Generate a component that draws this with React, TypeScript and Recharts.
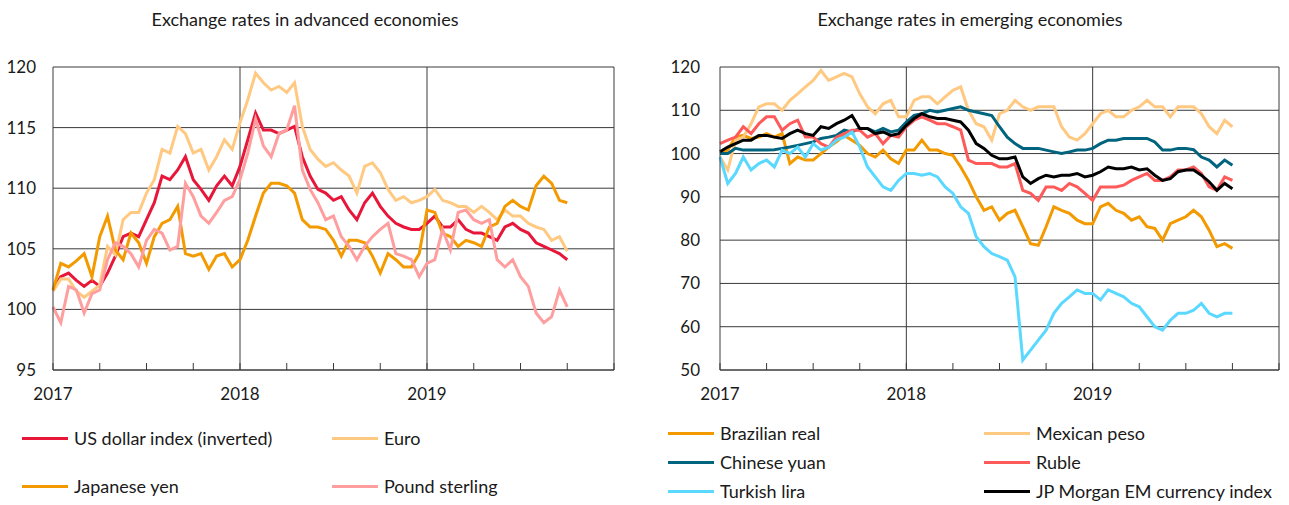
import { CartesianGrid, Line, LineChart, ReferenceLine, XAxis, YAxis } from "recharts";

const months = [
  0, 0.5, 1, 1.5, 2, 2.5, 3, 3.5, 4, 4.5, 5, 5.5, 6, 6.5, 7, 7.5, 8, 8.5, 9, 9.5, 10, 10.5, 11, 11.5, 12,
  12.5, 13, 13.5, 14, 14.5, 15, 15.5, 16, 16.5, 17, 17.5, 18, 18.5, 19, 19.5, 20, 20.5, 21, 21.5, 22, 22.5, 23, 23.5, 24,
  24.5, 25, 25.5, 26, 26.5, 27, 27.5, 28, 28.5, 29, 29.5, 30, 30.5, 31, 31.5, 32, 32.5, 33,
];

// advanced economies
const usd = [
  101.6, 102.7, 103, 102.4, 101.9, 102.4, 101.9, 103, 104.4, 106, 106.3, 106, 107.4, 108.8, 111, 110.7, 111.5, 112.6, 110.7, 109.9, 109, 110.2, 111, 110.2, 111.8,
  114, 116.2, 114.8, 114.8, 114.5, 114.8, 115.1, 112.6, 111, 109.9, 109.6, 109, 109.3, 108.2, 107.4, 108.8, 109.6, 108.5, 107.7, 107.1, 106.8, 106.6, 106.6, 107.1,
  107.7, 106.8, 106.8, 107.4, 106.6, 106.3, 106.3, 106, 105.7, 106.8, 107.1, 106.6, 106.3, 105.5, 105.2, 104.9, 104.6, 104.1,
];
const euro = [
  101.5, 102.5, 102.5, 101.5, 101, 101.5, 102, 105.2, 104.5, 107.4, 108, 108, 109.6, 110.7, 113.2, 112.9, 115.1, 114.5, 112.9, 113.2, 111.5, 112.6, 114, 113.2, 115.4,
  117.3, 119.5, 118.7, 118.1, 118.4, 117.9, 118.7, 115.1, 113.2, 112.4, 111.8, 112.1, 111.5, 111, 109.6, 111.8, 112.1, 111.3, 109.9, 109, 109.3, 108.8, 109, 109.3,
  109.9, 109, 108.8, 108.5, 108.5, 108, 108.5, 108, 107.4, 108.2, 107.7, 107.7, 107.1, 106.8, 106.6, 105.7, 106, 104.8,
];
const yen = [
  101.6, 103.8, 103.5, 104, 104.6, 102.7, 106, 107.7, 104.9, 104.1, 106.3, 105.5, 103.8, 106, 107.1, 107.4, 108.5, 104.6, 104.4, 104.6, 103.3, 104.4, 104.6, 103.5, 104.1,
  105.7, 107.7, 109.6, 110.4, 110.4, 110.2, 109.6, 107.4, 106.8, 106.8, 106.6, 105.7, 104.4, 105.7, 105.7, 105.5, 104.4, 103, 104.6, 104.1, 103.5, 103.5, 104.6, 108.2,
  108, 106.3, 106, 105.2, 105.7, 105.5, 105.2, 106.8, 107.1, 108.5, 109, 108.5, 108.2, 110.2, 111, 110.4, 109, 108.8,
];
const pound = [
  100.2, 98.9, 101.9, 101.6, 99.7, 101.3, 101.6, 104.1, 105.5, 105.2, 104.6, 103.5, 105.7, 106.6, 106.3, 104.9, 105.2, 110.4, 109.3, 107.7, 107.1, 108, 109, 109.3, 110.7,
  112.9, 115.7, 113.5, 112.6, 114.5, 114.8, 116.8, 111.5, 109.9, 108.8, 107.4, 107.7, 106, 105.2, 104.1, 105.2, 106, 106.6, 107.1, 104.6, 104.4, 104.1, 102.7, 103.8,
  104.1, 106.6, 104.9, 108, 108.2, 107.4, 107.1, 107.4, 104.1, 103.5, 104.1, 102.7, 101.9, 99.7, 98.9, 99.4, 101.6, 100.2,
];

// emerging economies
const real = [
  100, 100.8, 103.8, 104.2, 103.5, 103.8, 104.6, 103.8, 104.6, 97.7, 99.2, 98.5, 98.5, 100, 101.5, 102.7, 104.2, 103.1, 101.9, 100, 99.2, 100.8, 98.8, 97.7, 100.8,
  100.8, 103.1, 100.8, 100.8, 100, 99.6, 96.9, 93.8, 90, 86.9, 87.7, 84.6, 86.2, 86.9, 83.1, 79.2, 78.8, 83.1, 87.7, 86.9, 86.2, 84.6, 83.8, 83.8,
  87.7, 88.5, 86.9, 86.2, 84.6, 85.4, 83.1, 82.7, 80, 83.8, 84.6, 85.4, 86.9, 85.4, 82.3, 78.5, 79.2, 78.1,
];
const peso = [
  99.2, 96.2, 103.1, 103.8, 106.9, 110.8, 111.5, 111.5, 110, 112.3, 113.8, 115.4, 116.9, 119.2, 116.9, 117.7, 118.5, 117.7, 113.8, 110.8, 109.2, 111.5, 112.3, 108.5, 108.5,
  112.3, 113.1, 113.1, 111.5, 113.1, 114.6, 115.4, 110, 106.9, 106.2, 103.1, 109.2, 110, 112.3, 110.8, 110, 110.8, 110.8, 110.8, 106.2, 103.8, 103.1, 104.6, 106.9,
  109.2, 110, 108.5, 108.5, 110, 110.8, 112.3, 110.8, 110.8, 108.5, 110.8, 110.8, 110.8, 109.2, 106.2, 104.6, 107.7, 106.2,
];
const yuan = [
  100, 100, 101.2, 100.8, 100.8, 100.8, 100.8, 100.9, 101.2, 101.5, 101.9, 102.3, 102.7, 103.5, 103.8, 104.2, 105.4, 105, 105.8, 105.8, 105, 105.8, 105, 105.4, 107.3,
  108.8, 109.2, 110, 109.6, 110, 110.4, 110.8, 110, 109.6, 109.2, 108.8, 106.2, 103.8, 102.3, 101.2, 101.2, 101.2, 100.8, 100.4, 100, 100.4, 100.8, 100.8, 101.2,
  102.3, 103.1, 103.1, 103.5, 103.5, 103.5, 103.5, 102.7, 100.8, 100.8, 101.2, 101.2, 100.9, 99.2, 98.5, 96.9, 98.5, 97.3,
];
const ruble = [
  102.3, 103.1, 103.8, 106.2, 104.6, 106.9, 108.5, 108.5, 105.4, 106.9, 107.7, 103.8, 103.8, 102.3, 101.5, 103.8, 104.6, 105.4, 105.4, 103.8, 104.6, 102.3, 104.2, 103.8, 106.2,
  107.7, 108.5, 107.7, 106.9, 106.9, 106.2, 105.4, 98.5, 97.7, 97.7, 97.7, 96.9, 96.9, 97.7, 91.5, 90.8, 89.2, 92.3, 92.3, 91.5, 93.1, 92.3, 90.8, 89.2,
  92.3, 92.3, 92.3, 92.7, 93.8, 94.6, 95.4, 93.8, 93.8, 94.6, 96.2, 96.2, 96.9, 95.4, 92.3, 91.5, 94.6, 93.8,
];
const lira = [
  99.2, 93.1, 95.4, 99.2, 96.2, 97.7, 98.5, 96.9, 100.8, 100, 101.5, 99.2, 102.3, 100.8, 101.5, 103.1, 103.8, 105, 101.5, 96.9, 94.6, 92.3, 91.5, 93.8, 95.4,
  95.4, 95, 95.4, 94.6, 92.3, 90.8, 87.7, 86.2, 80.8, 78.5, 76.9, 76.2, 75.4, 71.5, 52.3, 54.6, 56.9, 59.2, 63.1, 65.4, 66.9, 68.5, 67.7, 67.7,
  66.2, 68.5, 67.7, 66.9, 65.4, 64.6, 62.3, 60, 59.2, 61.5, 63.1, 63.1, 63.8, 65.4, 63.1, 62.3, 63.1, 63.1,
];
const jpm = [
  100.4, 101.5, 102.3, 103.1, 103.1, 104.2, 104.2, 103.8, 103.5, 104.6, 105.4, 104.6, 104.2, 106.2, 105.8, 106.9, 107.7, 108.8, 105.8, 105.8, 104.6, 105, 104.2, 104.6, 106.5,
  108.1, 109.2, 108.5, 108.1, 108.1, 107.7, 107.3, 105.4, 102.3, 101.2, 99.6, 98.8, 98.8, 99.2, 94.6, 93.1, 94.2, 95, 94.6, 95, 95, 95.4, 94.6, 95,
  95.8, 96.9, 96.5, 96.5, 96.9, 96.2, 96.5, 95, 93.8, 94.2, 95.8, 96.2, 96.2, 95, 93.5, 91.5, 93.1, 91.9,
];

const quarterTicks = [0, 3, 6, 9, 12, 15, 18, 21, 24, 27, 30, 33, 36];
const yearTicks = [0, 12, 24];
const yearLabels = ["2017", "2018", "2019"];
const advTicks = [95, 100, 105, 110, 115, 120];
const emTicks = [50, 60, 70, 80, 90, 100, 110, 120];

const advSeries = [
  { key: "usd", name: "US dollar index (inverted)", color: "#E8173A", values: usd },
  { key: "euro", name: "Euro", color: "#FFC982", values: euro },
  { key: "yen", name: "Japanese yen", color: "#F39A00", values: yen },
  { key: "pound", name: "Pound sterling", color: "#FF9E9E", values: pound },
];
const emSeries = [
  { key: "real", name: "Brazilian real", color: "#F39A00", values: real },
  { key: "peso", name: "Mexican peso", color: "#FFC982", values: peso },
  { key: "yuan", name: "Chinese yuan", color: "#00647E", values: yuan },
  { key: "ruble", name: "Ruble", color: "#FF5A5A", values: ruble },
  { key: "lira", name: "Turkish lira", color: "#5AD8FF", values: lira },
  { key: "jpm", name: "JP Morgan EM currency index", color: "#000000", values: jpm },
];

const FONT = "Lato, 'Open Sans', sans-serif";
const GRID = "#3a3a3a";

function buildRows(series: typeof advSeries) {
  return months.map((m, i) => {
    const row: Record<string, number> = { m };
    series.forEach((s) => (row[s.key] = s.values[i]));
    return row;
  });
}

function MonthTick(props: any) {
  const { x, y, payload } = props;
  const idx = yearTicks.indexOf(payload.value);
  return (
    <g>
      <line x1={x} y1={y} x2={x} y2={y - 7} stroke={GRID} strokeWidth={1} />
      {idx >= 0 && (
        <text x={x} y={y + 30} textAnchor="middle" fontSize={17} fill="#1a1a1a" fontFamily={FONT}>
          {yearLabels[idx]}
        </text>
      )}
    </g>
  );
}

function Panel(props: {
  series: typeof advSeries;
  width: number;
  yWidth: number;
  labelGap: number;
  right: number;
  domain: [number, number];
  ticks: number[];
}) {
  const { series, width, yWidth, labelGap, right, domain, ticks } = props;
  const rows = buildRows(series);
  return (
    <LineChart width={width} height={410} data={rows} margin={{ top: 67, right, bottom: 0, left: 0 }}>
      <CartesianGrid vertical={false} stroke={GRID} />
      <ReferenceLine x={12} stroke={GRID} />
      <ReferenceLine x={24} stroke={GRID} />
      <ReferenceLine x={36} stroke={GRID} />
      <XAxis
        dataKey="m"
        type="number"
        domain={[0, 36]}
        ticks={quarterTicks}
        interval={0}
        tickLine={false}
        tickSize={0}
        tickMargin={0}
        height={40}
        stroke={GRID}
        tick={<MonthTick />}
      />
      <YAxis
        domain={domain}
        ticks={ticks}
        interval={0}
        width={yWidth}
        tickLine={false}
        tickSize={0}
        tickMargin={labelGap}
        stroke={GRID}
        tick={{ fontSize: 17, fill: "#1a1a1a", fontFamily: FONT }}
      />
      {series.map((s) => (
        <Line
          key={s.key}
          dataKey={s.key}
          name={s.name}
          stroke={s.color}
          strokeWidth={3}
          dot={false}
          type="linear"
          isAnimationActive={false}
        />
      ))}
    </LineChart>
  );
}

function LegendItem({ x, y, color, name }: { x: number; y: number; color: string; name: string }) {
  return (
    <div style={{ position: "absolute", left: x, top: y - 12, height: 24, display: "flex", alignItems: "center" }}>
      <div style={{ width: 46, height: 3, background: color, marginRight: 6 }} />
      <span style={{ fontSize: 18, color: "#1a1a1a", fontFamily: FONT, whiteSpace: "nowrap" }}>{name}</span>
    </div>
  );
}

export default function App() {
  return (
    <div style={{ position: "absolute", left: 0, top: 0, width: 1289, height: 505, background: "#fff", fontFamily: FONT }}>
      <div style={{ position: "absolute", left: 5, width: 600, top: 8, textAlign: "center", fontSize: 18, color: "#1a1a1a" }}>
        Exchange rates in advanced economies
      </div>
      <div style={{ position: "absolute", left: 670, width: 600, top: 8, textAlign: "center", fontSize: 18, color: "#1a1a1a" }}>
        Exchange rates in emerging economies
      </div>
      <div style={{ position: "absolute", left: 0, top: 0 }}>
        <Panel series={advSeries} width={640} yWidth={53} labelGap={17} right={26} domain={[95, 120]} ticks={advTicks} />
      </div>
      <div style={{ position: "absolute", left: 640, top: 0 }}>
        <Panel series={emSeries} width={649} yWidth={80} labelGap={20} right={10} domain={[50, 120]} ticks={emTicks} />
      </div>
      {advSeries.map((s, i) => (
        <LegendItem key={s.key} x={i % 2 === 0 ? 22 : 332} y={i < 2 ? 438 : 486} color={s.color} name={s.name} />
      ))}
      {emSeries.map((s, i) => (
        <LegendItem key={s.key} x={i % 2 === 0 ? 668 : 984} y={433 + Math.floor(i / 2) * 29} color={s.color} name={s.name} />
      ))}
    </div>
  );
}
